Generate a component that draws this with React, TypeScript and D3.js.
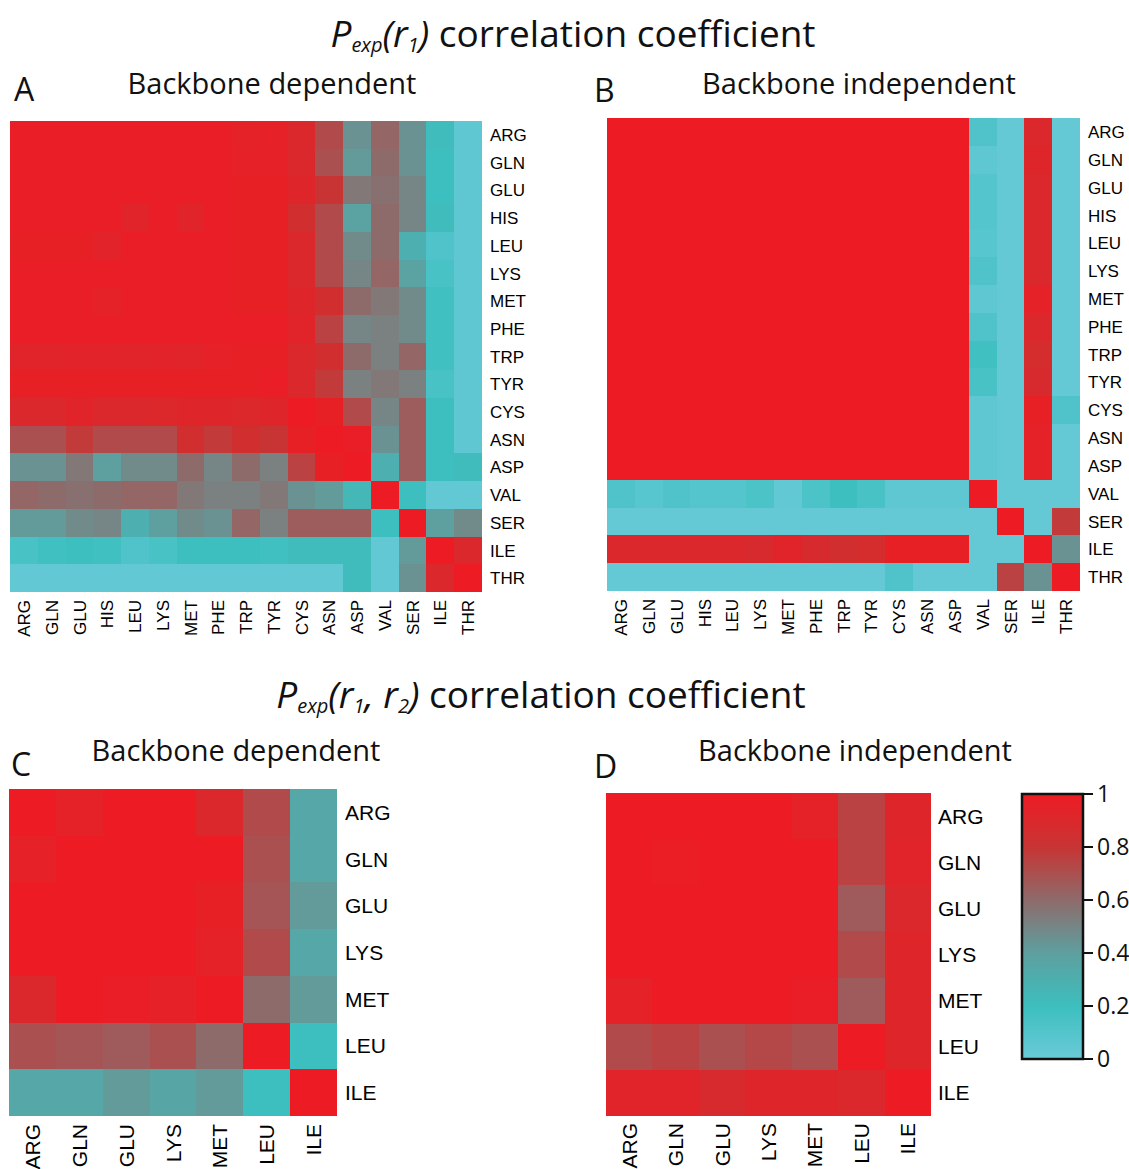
import React from 'react';
import * as d3 from 'd3';

const residues17 = ['ARG', 'GLN', 'GLU', 'HIS', 'LEU', 'LYS', 'MET', 'PHE', 'TRP', 'TYR', 'CYS', 'ASN', 'ASP', 'VAL', 'SER', 'ILE', 'THR'];
const residues7 = ['ARG', 'GLN', 'GLU', 'LYS', 'MET', 'LEU', 'ILE'];

// A: P_exp(r1), backbone dependent
const matrixA = [
  [0.98, 0.98, 0.98, 0.98, 0.98, 0.98, 0.98, 0.98, 0.95, 0.96, 0.9, 0.72, 0.45, 0.62, 0.45, 0.22, 0.05],
  [0.98, 0.98, 0.98, 0.98, 0.98, 0.98, 0.98, 0.98, 0.96, 0.96, 0.9, 0.7, 0.42, 0.6, 0.45, 0.2, 0.05],
  [0.98, 0.98, 0.98, 0.98, 0.98, 0.98, 0.98, 0.98, 0.97, 0.97, 0.92, 0.8, 0.55, 0.58, 0.5, 0.2, 0.05],
  [0.98, 0.98, 0.98, 0.98, 0.93, 0.98, 0.93, 0.98, 0.97, 0.97, 0.85, 0.72, 0.38, 0.6, 0.5, 0.22, 0.05],
  [0.97, 0.97, 0.97, 0.94, 0.98, 0.98, 0.98, 0.98, 0.97, 0.97, 0.9, 0.72, 0.48, 0.6, 0.3, 0.12, 0.05],
  [0.98, 0.98, 0.98, 0.98, 0.98, 0.98, 0.98, 0.98, 0.97, 0.97, 0.9, 0.72, 0.5, 0.62, 0.38, 0.15, 0.05],
  [0.98, 0.98, 0.98, 0.95, 0.98, 0.98, 0.98, 0.98, 0.97, 0.97, 0.92, 0.85, 0.6, 0.55, 0.48, 0.18, 0.05],
  [0.98, 0.98, 0.98, 0.98, 0.98, 0.98, 0.98, 0.98, 0.98, 0.98, 0.93, 0.75, 0.5, 0.52, 0.48, 0.18, 0.05],
  [0.93, 0.93, 0.94, 0.94, 0.93, 0.94, 0.93, 0.96, 0.97, 0.97, 0.9, 0.85, 0.6, 0.52, 0.62, 0.18, 0.05],
  [0.97, 0.97, 0.97, 0.97, 0.97, 0.97, 0.97, 0.97, 0.97, 0.98, 0.9, 0.78, 0.52, 0.55, 0.52, 0.15, 0.05],
  [0.9, 0.9, 0.93, 0.9, 0.9, 0.91, 0.92, 0.92, 0.91, 0.92, 1.0, 0.97, 0.72, 0.5, 0.65, 0.2, 0.05],
  [0.7, 0.7, 0.78, 0.72, 0.72, 0.72, 0.85, 0.78, 0.85, 0.8, 0.97, 1.0, 0.98, 0.45, 0.65, 0.2, 0.05],
  [0.45, 0.45, 0.55, 0.4, 0.48, 0.48, 0.6, 0.5, 0.6, 0.52, 0.75, 0.97, 1.0, 0.3, 0.65, 0.2, 0.22],
  [0.62, 0.6, 0.58, 0.6, 0.62, 0.62, 0.55, 0.52, 0.52, 0.55, 0.45, 0.42, 0.25, 1.0, 0.2, 0.04, 0.04],
  [0.42, 0.42, 0.48, 0.5, 0.3, 0.4, 0.48, 0.45, 0.62, 0.52, 0.65, 0.65, 0.65, 0.2, 1.0, 0.4, 0.48],
  [0.15, 0.18, 0.2, 0.18, 0.12, 0.15, 0.2, 0.2, 0.2, 0.18, 0.22, 0.22, 0.22, 0.04, 0.42, 1.0, 0.9],
  [0.04, 0.04, 0.04, 0.04, 0.04, 0.04, 0.04, 0.04, 0.04, 0.04, 0.04, 0.04, 0.22, 0.04, 0.45, 0.9, 1.0],
];

// B: P_exp(r1), backbone independent
const matrixB = [
  [1, 1, 1, 1, 1, 1, 1, 1, 1, 1, 1, 1, 1, 0.12, 0.03, 0.9, 0.03],
  [1, 1, 1, 1, 1, 1, 1, 1, 1, 1, 1, 1, 1, 0.05, 0.03, 0.92, 0.03],
  [1, 1, 1, 1, 1, 1, 1, 1, 1, 1, 1, 1, 1, 0.1, 0.03, 0.9, 0.03],
  [1, 1, 1, 1, 1, 1, 1, 1, 1, 1, 1, 1, 1, 0.1, 0.03, 0.9, 0.03],
  [1, 1, 1, 1, 1, 1, 1, 1, 1, 1, 1, 1, 1, 0.08, 0.03, 0.9, 0.03],
  [1, 1, 1, 1, 1, 1, 1, 1, 1, 1, 1, 1, 1, 0.12, 0.03, 0.9, 0.03],
  [1, 1, 1, 1, 1, 1, 1, 1, 1, 1, 1, 1, 1, 0.05, 0.03, 0.95, 0.03],
  [1, 1, 1, 1, 1, 1, 1, 1, 1, 1, 1, 1, 1, 0.12, 0.03, 0.9, 0.03],
  [1, 1, 1, 1, 1, 1, 1, 1, 1, 1, 1, 1, 1, 0.18, 0.03, 0.87, 0.03],
  [1, 1, 1, 1, 1, 1, 1, 1, 1, 1, 1, 1, 1, 0.15, 0.03, 0.88, 0.03],
  [1, 1, 1, 1, 1, 1, 1, 1, 1, 1, 1, 1, 1, 0.05, 0.03, 0.97, 0.12],
  [1, 1, 1, 1, 1, 1, 1, 1, 1, 1, 1, 1, 1, 0.05, 0.03, 0.95, 0.03],
  [1, 1, 1, 1, 1, 1, 1, 1, 1, 1, 1, 1, 1, 0.05, 0.03, 0.95, 0.03],
  [0.12, 0.08, 0.12, 0.1, 0.1, 0.13, 0.04, 0.13, 0.2, 0.15, 0.05, 0.05, 0.05, 1, 0.03, 0.03, 0.03],
  [0.03, 0.03, 0.03, 0.03, 0.03, 0.03, 0.03, 0.03, 0.03, 0.03, 0.03, 0.03, 0.03, 0.03, 1, 0.03, 0.78],
  [0.9, 0.9, 0.9, 0.9, 0.9, 0.88, 0.93, 0.88, 0.85, 0.87, 0.97, 0.97, 0.97, 0.03, 0.03, 1, 0.45],
  [0.03, 0.03, 0.03, 0.03, 0.03, 0.03, 0.03, 0.03, 0.03, 0.03, 0.12, 0.03, 0.03, 0.03, 0.75, 0.45, 1],
];

// C: P_exp(r1, r2), backbone dependent
const matrixC = [
  [1.0, 0.95, 1.0, 1.0, 0.9, 0.72, 0.35],
  [0.96, 1.0, 1.0, 1.0, 1.0, 0.7, 0.35],
  [1.0, 1.0, 1.0, 1.0, 0.97, 0.68, 0.42],
  [1.0, 1.0, 1.0, 1.0, 0.95, 0.72, 0.35],
  [0.9, 1.0, 0.98, 0.96, 1.0, 0.6, 0.42],
  [0.7, 0.68, 0.66, 0.7, 0.6, 1.0, 0.2],
  [0.35, 0.35, 0.42, 0.36, 0.42, 0.2, 1.0],
];

// D: P_exp(r1, r2), backbone independent
const matrixD = [
  [1.0, 1.0, 1.0, 1.0, 0.95, 0.75, 0.92],
  [1.0, 0.99, 1.0, 1.0, 1.0, 0.75, 0.93],
  [1.0, 1.0, 1.0, 1.0, 1.0, 0.66, 0.9],
  [1.0, 1.0, 1.0, 1.0, 1.0, 0.72, 0.92],
  [0.95, 1.0, 1.0, 1.0, 0.98, 0.66, 0.92],
  [0.72, 0.75, 0.7, 0.73, 0.7, 1.0, 0.92],
  [0.93, 0.93, 0.88, 0.92, 0.92, 0.9, 1.0],
];

const colorTicks = [0, 0.2, 0.4, 0.6, 0.8, 1];
const colorStops = ['#6bcad9', '#3cbfbe', '#5e9f9f', '#8e6b6b', '#c83434', '#ed1c24'];

const color = d3.scaleLinear<string>().domain(colorTicks).range(colorStops).interpolate(d3.interpolateRgb);

const labelFont = '"Liberation Sans", Arial, Helvetica, sans-serif';
const titleFont = '"Open Sans", "Noto Sans", sans-serif';

type HeatProps = {
  labels: string[];
  values: number[][];
  x0: number; y0: number; w: number; h: number;
  fontSize: number; gap: number;
};

const Heatmap = ({ labels, values, x0, y0, w, h, fontSize, gap }: HeatProps) => {
  const xs = d3.scaleBand().domain(labels).range([x0, x0 + w]);
  const ys = d3.scaleBand().domain(labels).range([y0, y0 + h]);
  return (
    <g>
      <g shapeRendering="crispEdges">
        {values.map((row, i) =>
          row.map((v, j) => {
            const x = Math.round(xs(labels[j]) as number);
            const y = Math.round(ys(labels[i]) as number);
            const x2 = Math.round((xs(labels[j]) as number) + xs.bandwidth());
            const y2 = Math.round((ys(labels[i]) as number) + ys.bandwidth());
            return <rect key={`${i}-${j}`} x={x} y={y} width={x2 - x} height={y2 - y} fill={color(v)} />;
          })
        )}
      </g>
      {labels.map(l => (
        <text key={'r' + l} x={x0 + w + gap} y={(ys(l) as number) + ys.bandwidth() / 2}
          dy="0.36em" fontSize={fontSize} fontFamily={labelFont} fill="#000">{l}</text>
      ))}
      {labels.map(l => {
        const cx = (xs(l) as number) + xs.bandwidth() / 2;
        const ty = y0 + h + gap;
        return (
          <text key={'c' + l} transform={`translate(${cx},${ty}) rotate(-90)`}
            dy="0.36em" textAnchor="end" fontSize={fontSize} fontFamily={labelFont} fill="#000">{l}</text>
        );
      })}
    </g>
  );
};

const ColorBar = () => {
  const x0 = 1022, x1 = 1083, top = 794, bottom = 1059;
  const y = d3.scaleLinear().domain([0, 1]).range([bottom, top]);
  return (
    <g>
      <defs>
        <linearGradient id="cbar" x1="0" y1="1" x2="0" y2="0">
          {colorTicks.map((t, i) => (
            <stop key={t} offset={t} stopColor={colorStops[i]} />
          ))}
        </linearGradient>
      </defs>
      <rect x={x0} y={top} width={x1 - x0} height={bottom - top} fill="url(#cbar)" stroke="#111" strokeWidth={2.5} />
      {colorTicks.map(t => (
        <g key={t}>
          <line x1={x1} x2={x1 + 10} y1={y(t)} y2={y(t)} stroke="#111" strokeWidth={2} />
          <text x={x1 + 14} y={y(t)} dy="0.36em" fontSize={23} fontFamily={titleFont} fill="#111">{t === 0 || t === 1 ? String(t) : t.toFixed(1)}</text>
        </g>
      ))}
    </g>
  );
};

const App = () => {
  return (
    <svg width={1129} height={1169} style={{ position: 'absolute', left: 0, top: 0, background: '#fff' }}>
      <rect width={1129} height={1169} fill="#fff" />

      <text x={573} y={47} textAnchor="middle" fontSize={37} fontFamily={titleFont} fill="#111">
        <tspan fontStyle="italic">P</tspan>
        <tspan fontStyle="italic" fontSize={20} dy={5}>exp</tspan>
        <tspan fontStyle="italic" dy={-5}>(r</tspan>
        <tspan fontStyle="italic" fontSize={20} dy={5}>1</tspan>
        <tspan fontStyle="italic" dy={-5}>)</tspan>
        <tspan> correlation coefficient</tspan>
      </text>

      <text x={14} y={101} fontSize={32} fontFamily={titleFont} fill="#111">A</text>
      <text x={272} y={94} textAnchor="middle" fontSize={29} fontFamily={titleFont} fill="#111">Backbone dependent</text>
      <text x={594} y={102} fontSize={32} fontFamily={titleFont} fill="#111">B</text>
      <text x={859} y={94} textAnchor="middle" fontSize={29} fontFamily={titleFont} fill="#111">Backbone independent</text>

      <Heatmap labels={residues17} values={matrixA} x0={10} y0={121} w={472} h={471} fontSize={17} gap={8} />
      <Heatmap labels={residues17} values={matrixB} x0={607} y0={118} w={473} h={473} fontSize={17} gap={8} />

      <text x={541} y={708} textAnchor="middle" fontSize={37} fontFamily={titleFont} fill="#111">
        <tspan fontStyle="italic">P</tspan>
        <tspan fontStyle="italic" fontSize={20} dy={5}>exp</tspan>
        <tspan fontStyle="italic" dy={-5}>(r</tspan>
        <tspan fontStyle="italic" fontSize={20} dy={5}>1</tspan>
        <tspan fontStyle="italic" dy={-5}>, r</tspan>
        <tspan fontStyle="italic" fontSize={20} dy={5}>2</tspan>
        <tspan fontStyle="italic" dy={-5}>)</tspan>
        <tspan> correlation coefficient</tspan>
      </text>

      <text x={11} y={776} fontSize={32} fontFamily={titleFont} fill="#111">C</text>
      <text x={236} y={761} textAnchor="middle" fontSize={29} fontFamily={titleFont} fill="#111">Backbone dependent</text>
      <text x={594} y={778} fontSize={32} fontFamily={titleFont} fill="#111">D</text>
      <text x={855} y={761} textAnchor="middle" fontSize={29} fontFamily={titleFont} fill="#111">Backbone independent</text>

      <Heatmap labels={residues7} values={matrixC} x0={9} y0={789} w={328} h={327} fontSize={21} gap={8} />
      <Heatmap labels={residues7} values={matrixD} x0={606} y0={793} w={325} h={323} fontSize={21} gap={7} />

      <ColorBar />
    </svg>
  );
};

export default App;
